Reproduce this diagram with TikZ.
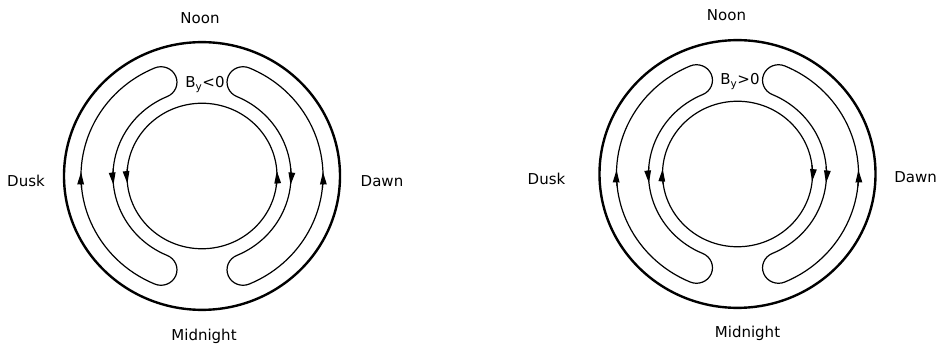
\documentclass[tikz,border=0pt]{standalone}
\usepackage{fontspec}
\setmainfont{DejaVu Sans}
\usetikzlibrary{arrows.meta}

\begin{document}
\begin{tikzpicture}[x=1pt, y=1pt,
    rim/.style={line width=2.4pt},
    flow/.style={line width=1.2pt},
    dir/.style={line width=1.2pt, -{Triangle[length=12.5pt,width=6.5pt]}},
    lbl/.style={font=\fontsize{15}{18}\selectfont, inner sep=0pt, anchor=base}]

	\useasboundingbox (0,0) rectangle (944,345);

	% --- left diagram (B_y < 0) ---
	\begin{scope}[shift={(202,169)}, yscale=0.97]
		\draw[rim] (0,0) circle[radius=138];
		\draw[flow] (0,0) circle[radius=75];
		% dusk cell
		\draw[flow] (113:121) arc[start angle=113, end angle=247, radius=121]
			arc[start angle=247, end angle=427, radius=16]
			arc[start angle=247, end angle=113, radius=89]
			arc[start angle=293, end angle=473, radius=16] -- cycle;
		% dawn cell
		\draw[flow] (67:121) arc[start angle=67, end angle=-67, radius=121]
			arc[start angle=-67, end angle=-247, radius=16]
			arc[start angle=-67, end angle=67, radius=89]
			arc[start angle=247, end angle=67, radius=16] -- cycle;
		% flow directions
		\draw[dir] (186:121) arc[start angle=186, end angle=178, radius=121];
		\draw[dir] (175:89) arc[start angle=175, end angle=186, radius=89];
		\draw[dir] (173:75) arc[start angle=173, end angle=186, radius=75];
		\draw[dir] (-8:75) arc[start angle=-8, end angle=4, radius=75];
		\draw[dir] (5:89) arc[start angle=5, end angle=-6, radius=89];
		\draw[dir] (-6:121) arc[start angle=-6, end angle=2, radius=121];
	\end{scope}

	\node[lbl] (noonL) at (200,321) {Noon};
	\node[lbl] (duskL) at (26,158) {Dusk};
	\node[lbl] (dawnL) at (382,158) {Dawn};
	\node[lbl] (midL) at (204,5) {Midnight};
	\node[lbl] (byL) at (205,257) {B\textsubscript{y}<0};

	% --- right diagram (B_y > 0) ---
	\begin{scope}[shift={(737.5,171)}, yscale=0.97]
		\draw[rim] (0,0) circle[radius=138];
		\draw[flow] (0,0) circle[radius=75];
		% dusk cell
		\draw[flow] (113:121) arc[start angle=113, end angle=247, radius=121]
			arc[start angle=247, end angle=427, radius=16]
			arc[start angle=247, end angle=113, radius=89]
			arc[start angle=293, end angle=473, radius=16] -- cycle;
		% dawn cell
		\draw[flow] (67:121) arc[start angle=67, end angle=-67, radius=121]
			arc[start angle=-67, end angle=-247, radius=16]
			arc[start angle=-67, end angle=67, radius=89]
			arc[start angle=247, end angle=67, radius=16] -- cycle;
		% flow directions
		\draw[dir] (186:121) arc[start angle=186, end angle=178, radius=121];
		\draw[dir] (175:89) arc[start angle=175, end angle=186, radius=89];
		\draw[dir] (188:75) arc[start angle=188, end angle=176, radius=75];
		\draw[dir] (7:75) arc[start angle=7, end angle=-6, radius=75];
		\draw[dir] (5:89) arc[start angle=5, end angle=-6, radius=89];
		\draw[dir] (-6:121) arc[start angle=-6, end angle=2, radius=121];
	\end{scope}

	\node[lbl] (noonR) at (726.5,324) {Noon};
	\node[lbl] (duskR) at (546.5,160) {Dusk};
	\node[lbl] (dawnR) at (915.5,162) {Dawn};
	\node[lbl] (midR) at (747.5,7) {Midnight};
	\node[lbl] (byR) at (740,260) {B\textsubscript{y}>0};

\end{tikzpicture}
\end{document}
